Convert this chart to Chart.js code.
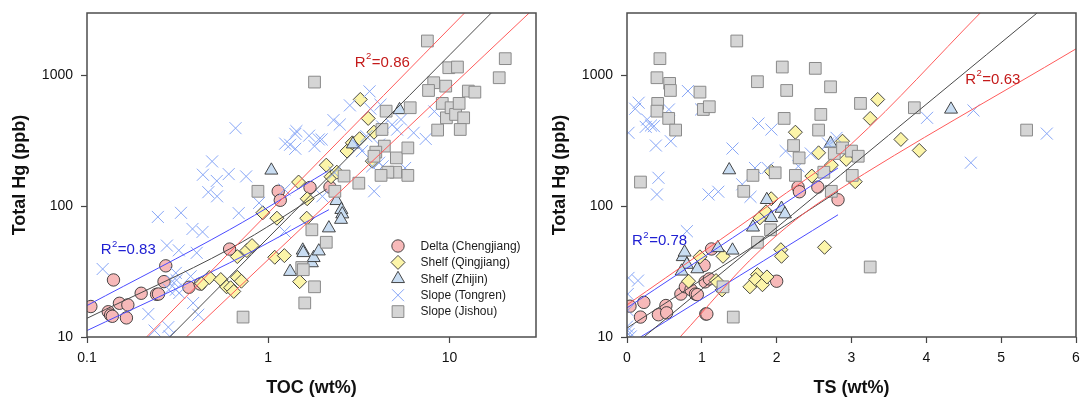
<!DOCTYPE html>
<html>
<head>
<meta charset="utf-8">
<script src="https://cdn.jsdelivr.net/npm/chart.js@4.4.1/dist/chart.umd.min.js"></script>
<style>
  html, body { margin: 0; padding: 0; background: #fff; }
  .wrap { position: relative; width: 1080px; height: 397px; }
  .panel { position: absolute; top: 0; width: 540px; height: 397px; }
</style>
</head>
<body>
<div class="wrap">
  <div class="panel" style="left:0"><canvas id="tocChart" width="540" height="397"></canvas></div>
  <div class="panel" style="left:540px"><canvas id="tsChart" width="540" height="397"></canvas></div>
</div>
<script>
// ---- left panel: TOC (wt%) vs total Hg (ppb), [x, y] pairs ----
const tocDelta = [[0.105,17.1],[0.14,27.3],[0.131,15.6],[0.135,14.7],[0.138,14.4],[0.151,18.1],[0.168,17.6],[0.165,14.0],
  [0.199,21.6],[0.242,21.2],[0.248,21.3],[0.266,26.5],[0.272,35],[0.365,24],[0.421,25.4],[0.612,47],[1.135,130],[1.165,111],
  [1.70,139],[2.19,140]];
const tocQingjiang = [[0.43,25.6],[0.473,28.5],[0.547,27.5],[0.589,24.2],[0.62,23.8],[0.645,22.3],[0.675,28.6],[0.711,26.7],
  [0.675,41.2],[0.762,45.8],[0.814,50],[0.933,89],[1.116,81],[1.086,40.7],[1.227,41.9],[1.47,153],[1.64,114],[1.63,81],
  [1.49,26.5],[2.09,206],[2.22,168],[2.39,182],[2.72,264],[2.91,305],[3.19,328],[3.56,469],[3.83,368],[3.22,655],[3.75,221]];
const tocZhijin = [[1.04,188],[1.32,31.6],[1.55,46],[1.56,44],[1.74,36.8],[1.78,40.3],[1.90,45.3],[2.16,68],[2.38,110],
  [2.53,94],[2.56,87],[2.52,79],[2.93,298],[5.3,545]];
const tocTongren = [[0.122,33.1],[0.218,15.0],[0.246,82.8],[0.236,11.2],[0.281,11.9],[0.286,10.1],[0.276,50],[0.321,46],
  [0.330,89],[0.382,67],[0.434,63.6],[0.403,44],[0.309,30.9],[0.312,27.2],[0.309,23],[0.323,21.7],[0.283,23],[0.296,26.7],
  [0.373,29.1],[0.385,18.2],[0.411,14.8],[0.436,174],[0.467,128],[0.49,220],[0.52,156],[0.522,119],[0.605,176],[0.66,395],
  [0.687,88.5],[0.755,169],[0.89,106],[1.23,64],[1.23,134],[1.24,301],[1.32,295],[1.41,357],[1.41,275],[1.43,375],[1.68,346],
  [1.80,288],[1.90,324],[1.97,324],[2.29,455],[2.48,421],[2.82,590],[3.62,755],[3.66,557],[4.16,597],[4.25,407],[4.82,420],
  [5.14,385],[4.09,296],[5.40,460],[6.34,364],[7.39,327],[8.25,530],[3.84,130],[3.75,202],[4.09,215],[4.28,202],[5.69,196],
  [3.29,264],[3.48,343],[3.15,288],[1.99,119],[2.32,180]];
const tocJishou = [[0.726,14.2],[0.877,130],[1.80,889],[1.74,66],[2.09,53],[1.53,34],[1.56,32.7],[1.80,24.2],[1.59,18.2],
  [2.33,130],[2.62,170],[3.16,150],[7.55,1833],[8.18,879],[7.66,767],[9.53,828],[9.91,1145],[11.06,1159],[9.12,611],[9.61,474],
  [10.2,566],[10.8,503],[11.3,611],[11.97,474],[11.46,386],[8.6,382],[12.7,759],[13.8,745],[18.8,960],[20.3,1343],[6.07,566],
  [4.47,533],[4.24,386],[4.37,288],[3.92,259],[3.83,241],[5.09,234],[5.89,279],[5.89,172],[5.05,182],[4.57,182],[4.19,172]];

// ---- right panel: TS (wt%) vs total Hg (ppb) ----
const tsDelta = [[0.04,17.2],[0.18,14.2],[0.225,18.4],[0.42,14.8],[0.52,17.4],[0.53,15.3],[0.72,21.3],[0.78,24.2],[0.855,23],
  [0.915,21.3],[0.94,21.1],[1.03,35.3],[1.044,26.4],[1.1,27.8],[1.13,47.1],[1.053,15],[1.067,15],[2.0,26.7],[2.286,140],
  [2.304,129],[2.55,140],[2.82,112]];
const tsQingjiang = [[0.823,26.7],[0.975,41],[1.19,27],[1.283,41.4],[1.27,22.9],[1.642,24.2],[1.743,30],[1.72,27.5],[1.81,25.1],
  [1.87,28.8],[1.776,81.5],[1.858,90.6],[1.927,114],[1.927,185],[2.056,46.5],[2.065,41.4],[2.25,368],[2.64,48.5],[2.47,170],
  [2.56,256],[2.73,206],[2.88,314],[2.93,228],[3.05,154],[3.25,469],[3.35,655],[3.66,324],[3.905,267]];
const tsZhijin = [[0.745,41],[0.77,44.4],[0.8,35.8],[0.73,31.8],[0.94,33.1],[1.214,48],[1.41,46],[1.366,189],[1.683,69],
  [1.868,112],[1.927,81.5],[2.065,96],[2.11,87],[2.72,302],[4.33,550]];
const tsTongren = [[0.02,364],[0.11,556],[0.156,618],[0.27,460],[0.32,414],[0.25,404],[0.36,409],[0.386,291],[0.42,165],
  [0.40,123],[0.56,549],[0.585,314],[0.814,759],[0.99,549],[1.09,123],[1.22,129],[1.41,276],[1.54,147],[1.65,118],[1.757,429],
  [1.71,196],[1.93,386],[1.88,196],[2.12,264],[2.29,202],[2.456,253],[2.686,302],[2.8,333],[4.01,474],[4.63,540],[4.595,215],
  [5.61,359],[0.8,64.4],[0.02,28.3],[0.147,27],[0.01,21.3],[0.01,16],[0.01,11.2],[0.02,10.5],[0.05,10.1],[0.0,12]];
const tsJishou = [[0.18,153],[0.40,960],[0.44,1343],[0.41,611],[0.40,533],[0.557,469],[0.57,869],[0.58,767],[0.65,382],
  [0.975,745],[1.02,549],[1.1,576],[1.467,1833],[1.743,895],[2.075,1159],[2.134,767],[2.10,469],[2.516,1132],[2.72,818],
  [2.59,503],[2.56,382],[2.226,291],[2.30,234],[2.25,172],[1.98,180],[1.683,172],[1.56,130],[1.918,66],[1.743,53],[1.283,24.2],
  [1.42,14.2],[2.63,182],[2.77,253],[2.88,279],[3.0,264],[3.09,241],[3.01,172],[2.73,130],[3.12,611],[3.25,34.3],[3.84,566],
  [5.34,382]];

// ---- regression lines and bands ----
const tocFitSteep = [[0.286,10],[17,3000]];
const tocBandSteepUp = [[0.213,10],[12.1,3000]];
const tocBandSteepLow = [[0.353,10],[27.5,3000]];
const tocFitShallow = [[0.1,13.9],[0.61,47],[2.1,135]];
const tocBandShallowUp = [[0.1,17.4],[0.61,66],[2.12,185]];
const tocBandShallowLow = [[0.1,11.2],[0.61,36.8],[2.16,94]];

const tsFitAll = [[0.225,10],[5.48,3000]];
const tsBandAllUp = [[0,17.6],[2,112],[3,300],[4.72,3000]];
const tsBandAllLow = [[0.709,10],[1.78,46],[2.76,126],[6,1596]];
const tsFitShelf = [[0,11.7],[2.82,130]];
const tsBandShelfUp = [[0,16.7],[2.82,196]];
const tsBandShelfLow = [[0.18,10],[2.82,86]];

// ---- axes ----
const hgTicks = [10, 100, 1000];
const tocTicks = [0.1, 1, 10];
const tsTicks = [0, 1, 2, 3, 4, 5, 6];

const FONT = "'Liberation Sans', Arial, sans-serif";
const RED = '#ff5b5b', BLUE = '#4b4bff', BLACK = '#4a4a4a';

// marker styles, shared by datasets and the legend
const styles = {
  delta:     { label: 'Delta (Chengjiang)', pointStyle: 'circle',   pointRadius: 6.2, backgroundColor: '#f7b9b9', borderColor: '#333', borderWidth: 0.9 },
  qingjiang: { label: 'Shelf (Qingjiang)',  pointStyle: 'rectRot',  pointRadius: 7,   backgroundColor: '#fcf5a9', borderColor: '#333', borderWidth: 0.9 },
  zhijin:    { label: 'Shelf (Zhijin)',     pointStyle: 'triangle', pointRadius: 7.5, backgroundColor: '#c9ddf2', borderColor: '#333', borderWidth: 0.9 },
  tongren:   { label: 'Slope (Tongren)',    pointStyle: 'crossRot', pointRadius: 8.5, backgroundColor: '#86a5f6', borderColor: '#86a5f6', borderWidth: 1 },
  jishou:    { label: 'Slope (Jishou)',     pointStyle: 'rect',     pointRadius: 8.3, backgroundColor: '#d5d5d5', borderColor: '#8a8a8a', borderWidth: 1 }
};

const pts = (arr) => arr.map(([x, y]) => ({ x, y }));

function scatterSet(key, data, order) {
  return Object.assign({ type: 'scatter', data: pts(data), order, pointHoverRadius: 0 }, styles[key]);
}

function lineSet(data, color) {
  return { type: 'line', data: pts(data), borderColor: color, borderWidth: 1, pointRadius: 0,
           fill: false, tension: 0.35, order: 0 };
}

// outer frame around the plot area
const framePlugin = {
  id: 'frame',
  afterDatasetsDraw(chart) {
    const { ctx, chartArea: a } = chart;
    ctx.save();
    ctx.strokeStyle = '#4d4d4d';
    ctx.lineWidth = 1.5;
    ctx.strokeRect(a.left, a.top, a.right - a.left, a.bottom - a.top);
    ctx.restore();
  }
};

// "R²=..." labels, anchored in data coordinates
const notesPlugin = {
  id: 'notes',
  afterDatasetsDraw(chart, args, opts) {
    const { ctx, scales } = chart;
    (opts.items || []).forEach((n) => {
      let x = scales.x.getPixelForValue(n.x);
      const y = scales.y.getPixelForValue(n.y);
      ctx.save();
      ctx.fillStyle = n.color;
      ctx.textBaseline = 'middle';
      ctx.font = `15px ${FONT}`;
      ctx.fillText('R', x, y);
      x += ctx.measureText('R').width + 0.5;
      ctx.font = `9.5px ${FONT}`;
      ctx.fillText('2', x, y - 6);
      x += ctx.measureText('2').width + 0.5;
      ctx.font = `15px ${FONT}`;
      ctx.fillText('=' + n.text, x, y);
      ctx.restore();
    });
  }
};

function drawMarker(ctx, s, x, y) {
  const r = s.pointRadius;
  ctx.save();
  ctx.fillStyle = s.backgroundColor;
  ctx.strokeStyle = s.borderColor;
  ctx.lineWidth = s.borderWidth;
  ctx.beginPath();
  if (s.pointStyle === 'circle') {
    ctx.arc(x, y, r, 0, Math.PI * 2);
  } else if (s.pointStyle === 'rectRot') {
    ctx.moveTo(x - r, y); ctx.lineTo(x, y - r); ctx.lineTo(x + r, y); ctx.lineTo(x, y + r); ctx.closePath();
  } else if (s.pointStyle === 'triangle') {
    ctx.moveTo(x, y - r); ctx.lineTo(x + r * 0.866, y + r / 2); ctx.lineTo(x - r * 0.866, y + r / 2); ctx.closePath();
  } else if (s.pointStyle === 'rect') {
    const h = r * Math.SQRT1_2;
    ctx.rect(x - h, y - h, 2 * h, 2 * h);
  } else {
    const h = r * Math.SQRT1_2;
    ctx.moveTo(x - h, y - h); ctx.lineTo(x + h, y + h); ctx.moveTo(x + h, y - h); ctx.lineTo(x - h, y + h);
  }
  if (s.pointStyle !== 'crossRot') ctx.fill();
  ctx.stroke();
  ctx.restore();
}

// legend inside the plot area, bottom right
const legendPlugin = {
  id: 'boxLegend',
  afterDatasetsDraw(chart, args, opts) {
    if (!opts.show) return;
    const { ctx, chartArea: a } = chart;
    const mx = a.right - 138, ty = a.bottom - 91;
    ['delta', 'qingjiang', 'zhijin', 'tongren', 'jishou'].forEach((k, i) => {
      const y = ty + i * 16.4;
      drawMarker(ctx, styles[k], mx, y);
      ctx.save();
      ctx.fillStyle = '#1a1a1a';
      ctx.font = `12px ${FONT}`;
      ctx.textBaseline = 'middle';
      ctx.fillText(styles[k].label, mx + 22.5, y + 0.5);
      ctx.restore();
    });
  }
};

function makePanel(id, cfg) {
  const tickFont = { family: FONT, size: 14 };
  const titleFont = { family: FONT, size: 18, weight: 'bold', lineHeight: 1 };
  return new Chart(document.getElementById(id), {
    type: 'scatter',
    data: {
      datasets: [
        scatterSet('delta', cfg.delta, 6),
        scatterSet('qingjiang', cfg.qingjiang, 5),
        scatterSet('zhijin', cfg.zhijin, 4),
        scatterSet('tongren', cfg.tongren, 3),
        scatterSet('jishou', cfg.jishou, 2),
        ...cfg.lines.map(([d, c]) => lineSet(d, c))
      ]
    },
    options: {
      responsive: false,
      animation: false,
      events: [],
      layout: { autoPadding: false, padding: { left: 0, right: 4, top: 13, bottom: 0 } },
      scales: {
        x: {
          type: cfg.xType,
          min: cfg.xMin,
          max: cfg.xMax,
          afterBuildTicks: (axis) => { axis.ticks = cfg.xTicks.map((v) => ({ value: v })); },
          afterFit: (axis) => { axis.height = 60; axis.paddingLeft = 0; axis.paddingRight = 0; },
          ticks: { font: tickFont, color: '#111', padding: 7, maxRotation: 0, autoSkip: false,
                   callback: (v) => String(v) },
          grid: { drawOnChartArea: false, tickLength: 6, color: '#444', tickWidth: 1.2 },
          border: { display: false },
          title: { display: true, text: cfg.xTitle, font: titleFont, color: '#111', padding: { top: 0, bottom: 0 } }
        },
        y: {
          type: 'logarithmic',
          min: 10,
          max: 3000,
          afterBuildTicks: (axis) => { axis.ticks = hgTicks.map((v) => ({ value: v })); },
          afterFit: (axis) => { axis.width = 87; axis.paddingTop = 0; axis.paddingBottom = 0; },
          ticks: { font: tickFont, color: '#111', padding: 8, autoSkip: false, callback: (v) => String(v) },
          grid: { drawOnChartArea: false, tickLength: 6, color: '#444', tickWidth: 1.2 },
          border: { display: false },
          title: { display: true, text: 'Total Hg (ppb)', font: titleFont, color: '#111', padding: { top: 11, bottom: 0 } }
        }
      },
      plugins: {
        legend: { display: false },
        tooltip: { enabled: false },
        notes: { items: cfg.notes },
        boxLegend: { show: !!cfg.legend }
      }
    },
    plugins: [framePlugin, notesPlugin, legendPlugin]
  });
}

makePanel('tocChart', {
  xType: 'logarithmic', xMin: 0.1, xMax: 30, xTicks: tocTicks, xTitle: 'TOC (wt%)',
  delta: tocDelta, qingjiang: tocQingjiang, zhijin: tocZhijin, tongren: tocTongren, jishou: tocJishou,
  lines: [[tocBandSteepUp, RED], [tocBandSteepLow, RED], [tocFitSteep, BLACK],
          [tocBandShallowUp, BLUE], [tocBandShallowLow, BLUE], [tocFitShallow, BLACK]],
  notes: [{ x: 3.0, y: 1250, text: '0.86', color: '#c41a1a' }, { x: 0.119, y: 46, text: '0.83', color: '#2020d2' }],
  legend: true
});

makePanel('tsChart', {
  xType: 'linear', xMin: 0, xMax: 6, xTicks: tsTicks, xTitle: 'TS (wt%)',
  delta: tsDelta, qingjiang: tsQingjiang, zhijin: tsZhijin, tongren: tsTongren, jishou: tsJishou,
  lines: [[tsBandAllUp, RED], [tsBandAllLow, RED], [tsFitAll, BLACK],
          [tsBandShelfUp, BLUE], [tsBandShelfLow, BLUE], [tsFitShelf, BLACK]],
  notes: [{ x: 0.067, y: 54.3, text: '0.78', color: '#2020d2' }, { x: 4.52, y: 929, text: '0.63', color: '#c41a1a' }],
  legend: false
});
</script>
</body>
</html>
